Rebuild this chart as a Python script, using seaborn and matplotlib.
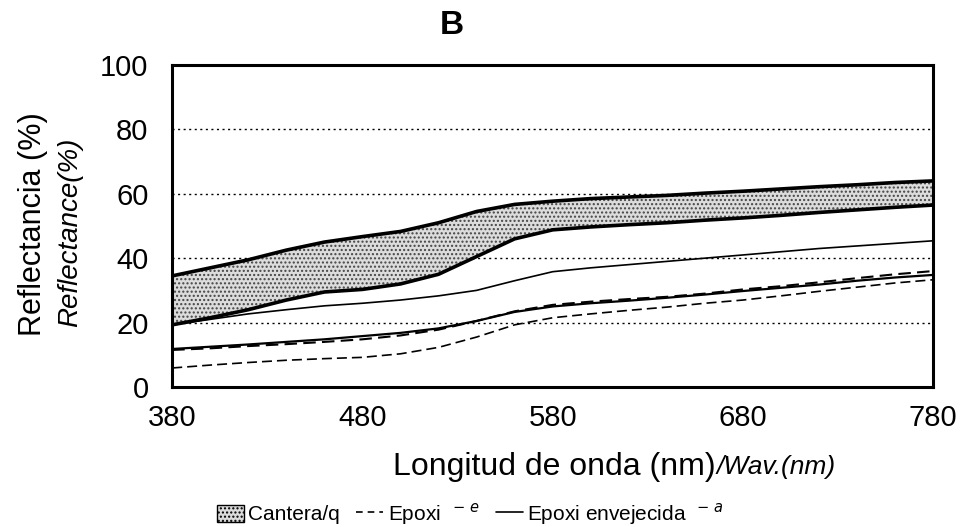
import numpy as np
import pandas as pd
import matplotlib
matplotlib.use("Agg")
import matplotlib.pyplot as plt
from matplotlib.patches import Patch
from matplotlib.lines import Line2D
import seaborn as sns

sns.set_theme(style="white")
plt.rcParams["font.family"] = ["Liberation Sans", "DejaVu Sans"]
plt.rcParams["text.color"] = "black"
plt.rcParams["xtick.color"] = "black"
plt.rcParams["ytick.color"] = "black"

# wavelength (nm)
wavelength = [380, 400, 420, 440, 460, 480, 500, 520, 540, 560, 580,
              600, 620, 640, 660, 680, 700, 720, 740, 760, 780]

# Cantera/q band (max / min)
cantera_max = [34.5, 37.0, 39.5, 42.5, 45.0, 46.7, 48.3, 51.0, 54.5, 56.7, 57.7,
               58.5, 59.0, 59.5, 60.2, 60.8, 61.5, 62.2, 62.8, 63.5, 64.0]
cantera_min = [19.3, 21.5, 24.0, 27.0, 29.5, 30.3, 32.0, 35.0, 40.5, 46.0, 48.8,
               49.7, 50.4, 51.0, 51.8, 52.5, 53.3, 54.2, 55.0, 55.8, 56.5]

# Epoxi (dashed)
epoxi_max = [11.5, 12.0, 12.7, 13.3, 14.0, 14.8, 16.0, 17.8, 20.5, 23.5, 25.5,
             26.5, 27.3, 28.0, 29.0, 30.3, 31.3, 32.5, 33.8, 35.0, 36.0]
epoxi_min = [5.9, 6.8, 7.6, 8.3, 8.8, 9.2, 10.3, 12.3, 15.5, 19.3, 21.5,
             22.7, 23.8, 24.8, 26.0, 27.0, 28.3, 29.7, 31.0, 32.3, 33.3]

# Epoxi envejecida (solid)
aged_max = [19.3, 21.0, 22.7, 24.0, 25.2, 26.0, 27.0, 28.3, 30.0, 33.0, 35.8,
            37.0, 38.0, 39.0, 40.0, 41.0, 42.0, 43.0, 43.8, 44.6, 45.4]
aged_min = [11.8, 12.5, 13.2, 14.0, 14.8, 15.8, 16.8, 18.2, 20.5, 23.3, 25.0,
            26.0, 26.8, 27.7, 28.7, 29.8, 30.8, 31.8, 33.0, 34.0, 34.8]

x_ticks = [380, 480, 580, 680, 780]
y_ticks = [0, 20, 40, 60, 80, 100]

df = pd.DataFrame({
    "wl": wavelength * 4,
    "refl": epoxi_max + epoxi_min + aged_max + aged_min,
    "serie": ["e_max"] * 21 + ["e_min"] * 21 + ["a_max"] * 21 + ["a_min"] * 21,
})

fig = plt.figure(figsize=(9.62, 5.27), dpi=100)
ax = fig.add_axes([0.179, 0.2657, 0.791, 0.611])

ax.fill_between(wavelength, cantera_min, cantera_max, facecolor="#dcdcdc",
                edgecolor="#444444", hatch="....", linewidth=0, zorder=2)
ax.plot(wavelength, cantera_max, color="black", lw=2.6, zorder=3)
ax.plot(wavelength, cantera_min, color="black", lw=2.6, zorder=3)

sns.lineplot(data=df, x="wl", y="refl", hue="serie", style="serie",
             palette={"e_max": "black", "e_min": "black", "a_max": "black", "a_min": "black"},
             dashes={"e_max": (6, 3), "e_min": (6, 3), "a_max": "", "a_min": ""},
             size="serie", sizes={"e_max": 1.5, "e_min": 1.2, "a_max": 1.2, "a_min": 1.6},
             legend=False, ax=ax, zorder=4)

ax.set_xlim(380, 780)
ax.set_ylim(0, 100)
ax.set_xticks(x_ticks)
ax.set_yticks(y_ticks)
ax.tick_params(axis="x", length=0, labelsize=21, pad=12)
ax.tick_params(axis="y", direction="inout", length=18, width=1.5, labelsize=21, pad=8)
for g in [20, 40, 60, 80]:
    ax.axhline(g, color="black", lw=1.0, ls=(0, (1.5, 2.5)), zorder=1)
for s in ax.spines.values():
    s.set_color("black")
    s.set_linewidth(2.2)
ax.set_xlabel("")
ax.set_ylabel("")

fig.text(452 / 962, 1 - 25 / 527, "B", fontsize=24, fontweight="bold",
         ha="center", va="center")

fig.text(33 / 962, 1 - 224 / 527, "Reflectancia (%)", rotation=90, fontsize=22,
         ha="center", va="center")
fig.text(70 / 962, 1 - 232 / 527, "Reflectance(%)", rotation=90, fontsize=20,
         style="italic", ha="center", va="center")

fig.text(716 / 962, 1 - 467 / 527, "Longitud de onda (nm)", fontsize=23,
         ha="right", va="center")
fig.text(717 / 962, 1 - 467 / 527, "/Wav.(nm)", fontsize=19, style="italic",
         ha="left", va="center")

handles = [
    Patch(facecolor="#dcdcdc", edgecolor="black", hatch="....", lw=1),
    Line2D([], [], color="black", lw=1.2, ls=(0, (4, 3))),
    Line2D([], [], color="black", lw=1.2),
]
labels = ["Cantera/q", r"Epoxi  $^{-\ e}$", r"Epoxi envejecida  $^{-\ a}$"]
fig.legend(handles, labels, loc="center", bbox_to_anchor=(470 / 962, 13 / 527),
           ncol=3, frameon=False, fontsize=15,
           handlelength=1.3, handletextpad=0.2, columnspacing=0.8, handleheight=0.9)

fig.savefig("out.png", dpi=100)
